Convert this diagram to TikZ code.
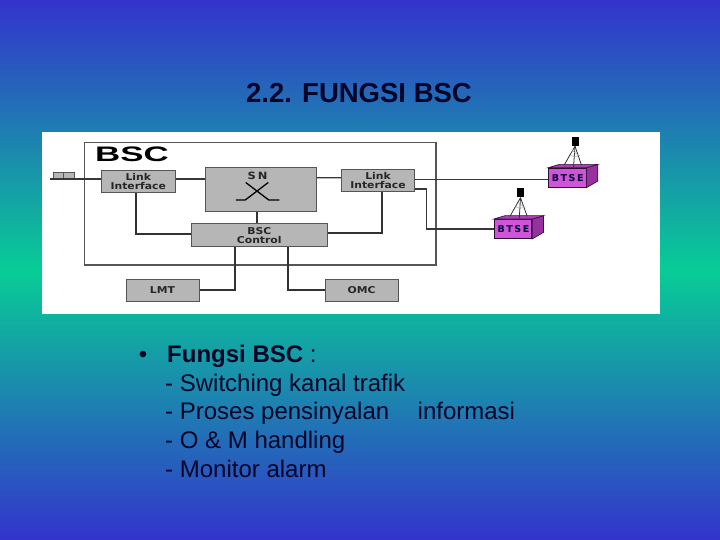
\documentclass[tikz,border=0pt]{standalone}
\usepackage{fontspec}
\usepackage{graphicx}
\setmainfont{Liberation Sans}
\newfontfamily\boxfont{DejaVu Sans}
\usetikzlibrary{calc}
\definecolor{bgblue}{RGB}{51,51,204}
\definecolor{bggreen}{RGB}{8,205,150}
\definecolor{boxfill}{RGB}{182,182,182}
\definecolor{boxline}{RGB}{85,85,85}
\definecolor{wire}{RGB}{55,55,55}
\definecolor{txtdark}{RGB}{5,5,40}
\definecolor{btsfront}{RGB}{207,84,218}
\definecolor{btsside}{RGB}{150,50,160}
\definecolor{btstop}{RGB}{172,62,182}
\newcommand{\widetxt}[1]{\scalebox{1.15}[1]{#1}}
\tikzset{
  unit/.style={draw=boxline,fill=boxfill,line width=1pt,inner sep=0pt,align=center,
    text=black!85,font=\boxfont\bfseries\fontsize{9.4}{10}\selectfont},
  wirethin/.style={draw=wire,line width=1.3pt},
  wirethick/.style={draw=black!80,line width=1.7pt},
  frameline/.style={draw=boxline,line width=1.2pt},
  slidetext/.style={anchor=base west,inner sep=0pt,text=txtdark,font=\fontsize{24}{29}\selectfont},
  titletext/.style={anchor=base,inner sep=0pt,text=txtdark,font=\bfseries\fontsize{27.5}{30}\selectfont},
  btsfrontbox/.style={draw=black!70!btsside,fill=btsfront,line width=0.9pt,inner sep=0pt,
    minimum width=37.5pt,minimum height=19pt},
  btslabel/.style={inner sep=0pt,text=black!80!blue,font=\boxfont\bfseries\fontsize{9.5}{10}\selectfont},
  antennahead/.style={fill=black,inner sep=0pt,minimum width=7pt,minimum height=9pt},
  towerline/.style={draw=black!80,line width=0.8pt},
  towerfine/.style={draw=black!35,line width=0.5pt},
}
% #1 name, #2 x of front centre, #3 y of front centre, #4 x of antenna, #5 y of antenna
\newcommand{\btsunit}[5]{%
  \node[btsfrontbox] (#1) at (#2,#3) {};
  \node[btslabel,anchor=west] at ([xshift=3.5pt]#1.west) {B\,T\,S\,E};
  \draw[fill=btsside,draw=black!60!btsside,line width=0.7pt]
    (#1.north east) -- ++(11.3,-3.4) -- ++(0,16.7) -- (#1.south east) -- cycle;
  \draw[fill=btstop,draw=black!60!btsside,line width=0.7pt]
    (#1.north west) -- ++(11.3,-3.4) -- ($(#1.north east)+(11.3,-3.4)$) -- (#1.north east) -- cycle;
  \node[antennahead] (#1a) at (#4,#5) {};
  \draw[towerline] (#1a.south) -- ($(#1.north west)+(16,-2.5)$);
  \draw[towerline] (#1a.south) -- ($(#1.north west)+(33.5,-2.5)$);
  \draw[towerline] (#1a.south) -- ($(#1.north west)+(25.5,-1)$);
  \draw[towerfine] ($(#1a.south)+(-5,9)$) .. controls ($(#1a.south)+(0,11)$) .. ($(#1a.south)+(5,9)$);
  \draw[towerfine] ($(#1a.south)+(-3,4)$) -- ($(#1a.south)+(3,9)$);
}
\begin{document}
\begin{tikzpicture}[x=1pt,y=-1pt]
\useasboundingbox (0,0) rectangle (720,540);
\shade[top color=bgblue,bottom color=bgblue,middle color=bggreen,shading angle=0] (0,0) rectangle (720,540);
\fill[white] (42,132) rectangle (660,314);

% title
\node[titletext] (title) at (359,103) {2.2. FUNGSI BSC};

% frame
\node[frameline,inner sep=0pt,minimum width=351.5pt,minimum height=122.5pt,draw] (frame) at (260.25,203.75) {};
\node[inner sep=0pt,anchor=base west,text=black,font=\bfseries\fontsize{21}{22}\selectfont] (bsclabel) at (95,162) {\scalebox{1.66}[1]{BSC}};

% boxes
\node[unit,minimum width=73.5pt,minimum height=22pt] (linkL) at (138.25,181.5) {\widetxt{Link}\\[-1.2pt]\widetxt{Interface}};
\node[unit,minimum width=110.5pt,minimum height=44pt,anchor=center] (sn) at (260.75,190) {};
\node[inner sep=0pt,text=black!85,font=\boxfont\bfseries\fontsize{10}{11}\selectfont] (snlabel) at (257.5,176) {\widetxt{S\,N}};
\node[unit,minimum width=136.5pt,minimum height=22.5pt] (ctrl) at (259.25,235.25) {\widetxt{BSC}\\[-1.2pt]\widetxt{Control}};
\node[unit,minimum width=73.5pt,minimum height=22.5pt] (linkR) at (378,180.75) {\widetxt{Link}\\[-1.2pt]\widetxt{Interface}};
\node[unit,minimum width=73pt,minimum height=22pt] (lmt) at (162.5,290) {\widetxt{LMT}};
\node[unit,minimum width=73pt,minimum height=22pt] (omc) at (361.5,290) {\widetxt{OMC}};

% switch symbol inside SN
\coordinate (swa) at ($(sn.center)+(-25,10)$);
\coordinate (swb) at ($(sn.center)+(18.5,10)$);
\draw[draw=black,line width=1.3pt] (swa) -- ++(9.5,0) -- ++(23,-17.5);
\draw[draw=black,line width=1.3pt] (swb) -- ++(-10.5,0) -- ++(-23,-17.5);

% BTSE units
\btsunit{btsA}{567.25}{177.75}{575}{141.5}
\btsunit{btsB}{513}{229}{520.5}{193}

% input stub
\node[draw=boxline,fill=boxfill,line width=0.8pt,inner sep=0pt,minimum width=10.5pt,minimum height=6.5pt] (stubA) at (58.5,175.75) {};
\node[draw=boxline,fill=boxfill,line width=0.8pt,inner sep=0pt,minimum width=11pt,minimum height=6.5pt] (stubB) at (69.25,175.75) {};
\coordinate (stubend) at (50,179);

% connectors
\draw[wirethin] (stubend) -- (linkL.west |- stubend);
\draw[wirethin] (linkL.east |- stubend) -- (sn.west |- stubend);
\draw[wirethin] ([yshift=12.3pt]sn.east) -- ([yshift=3pt]linkR.west);
\draw[wirethin] ([yshift=-1.5pt]linkR.east |- btsA.west) -- ([yshift=-1.5pt]btsA.west);
\draw[wirethin] ([yshift=-8.2pt]linkR.east) -| (426.7,229) -- (btsB.west);
\draw[wirethick] ([xshift=-2.5pt]linkL.south) |- ([yshift=1.2pt]ctrl.west);
\draw[wirethick] (sn.south -| 256.7,0) -- (ctrl.north -| 256.7,0);
\draw[wirethick] ([yshift=2pt]ctrl.east) -| ([xshift=4pt]linkR.south);
\draw[wirethick] ([xshift=-24pt]ctrl.south) |- (lmt.east);
\draw[wirethick] ([xshift=28.5pt]ctrl.south) |- (omc.west);

% text
\node[inner sep=0pt,anchor=base,text=txtdark,font=\fontsize{24}{29}\selectfont] (bullet) at (143,362) {•};
\node[slidetext] (t1) at (167,362) {\textbf{Fungsi BSC} :};
\node[slidetext] (t2) at (165,391) {- Switching kanal trafik};
\node[slidetext] (t3) at (165,419.7) {- Proses pensinyalan};
\node[slidetext] (t3b) at (417.5,419.7) {informasi};
\node[slidetext] (t4) at (165,448.5) {- O \& M handling};
\node[slidetext] (t5) at (165,477) {- Monitor alarm};
\end{tikzpicture}
\end{document}
